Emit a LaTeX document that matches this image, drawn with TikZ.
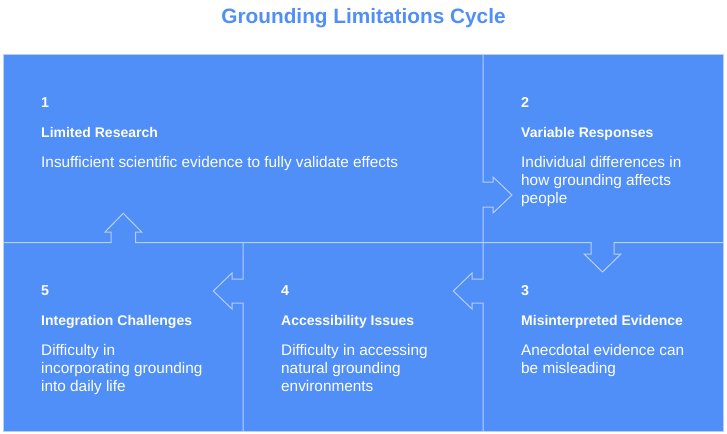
\documentclass[tikz,border=0pt]{standalone}
\usepackage{fontspec}
\setmainfont{Liberation Sans}
\definecolor{cellblue}{RGB}{80,142,248}
\definecolor{edgecol}{RGB}{182,208,252}
\tikzset{
  numtxt/.style={anchor=base west,text=white,inner sep=0pt,font=\bfseries\fontsize{14.3}{17}\selectfont},
  headtxt/.style={anchor=base west,text=white,inner sep=0pt,font=\bfseries\fontsize{14}{17}\selectfont},
  desctxt/.style={anchor=base west,text=white,inner sep=0pt,font=\fontsize{15.35}{18}\selectfont},
  edgeline/.style={draw=edgecol,line width=1pt,line join=miter}
}
\newcommand{\desclines}[1]{\parbox[t]{200pt}{\raggedright #1}}
\begin{document}
\begin{tikzpicture}[x=1pt,y=-1pt]
\useasboundingbox (0,0) rectangle (727,433);
\node[anchor=base,inner sep=0pt,text=cellblue,font=\bfseries\fontsize{20.8}{24}\selectfont] (title) at (363.5,24) {Grounding Limitations Cycle};
% background cells
\fill[cellblue] (3,55) rectangle (723,431);
\draw[edgeline] (3,55) rectangle (723,431);
% top vertical divider with right arrow (1 -> 2)
\draw[edgeline] (483,55) -- (483,182) -- (493,182) -- (493,177) -- (512,195) -- (493,213) -- (493,207) -- (483,207) -- (483,242.5);
% horizontal divider with up arrow (5 -> 1) and down arrow (2 -> 3)
\draw[edgeline] (3,242.5) -- (111,242.5) -- (111,232) -- (105,232) -- (123.3,213.3) -- (141.7,232) -- (135.5,232) -- (135.5,242.5)
  -- (591,242.5) -- (591,254) -- (584,254) -- (602.5,272) -- (621,254) -- (614,254) -- (614,242.5) -- (723,242.5);
% bottom vertical divider with left arrow (3 -> 4)
\draw[edgeline] (483,242.5) -- (483,279) -- (472,279) -- (472,273) -- (453.3,291) -- (472,309) -- (472,303) -- (483,303) -- (483,431);
% bottom vertical divider with left arrow (4 -> 5)
\draw[edgeline] (243,242.5) -- (243,279) -- (232,279) -- (232,273) -- (213.3,291) -- (232,309) -- (232,303) -- (243,303) -- (243,431);
% cell 1
\node[numtxt] (n1) at (41,107) {1};
\node[headtxt] (h1) at (41,137) {Limited Research};
\node[desctxt] (d1) at (41,167) {Insufficient scientific evidence to fully validate effects};
% cell 2
\node[numtxt] (n2) at (521,107) {2};
\node[headtxt] (h2) at (521,137) {Variable Responses};
\node[desctxt] (d2) at (521,167) {\desclines{Individual differences in\\how grounding affects\\people}};
% cell 3
\node[numtxt] (n3) at (521,295) {3};
\node[headtxt] (h3) at (521,325) {Misinterpreted Evidence};
\node[desctxt] (d3) at (521,355) {\desclines{Anecdotal evidence can\\be misleading}};
% cell 4
\node[numtxt] (n4) at (281,295) {4};
\node[headtxt] (h4) at (281,325) {Accessibility Issues};
\node[desctxt] (d4) at (281,355) {\desclines{Difficulty in accessing\\natural grounding\\environments}};
% cell 5
\node[numtxt] (n5) at (41,295) {5};
\node[headtxt] (h5) at (41,325) {Integration Challenges};
\node[desctxt] (d5) at (41,355) {\desclines{Difficulty in\\incorporating grounding\\into daily life}};
\end{tikzpicture}
\end{document}
